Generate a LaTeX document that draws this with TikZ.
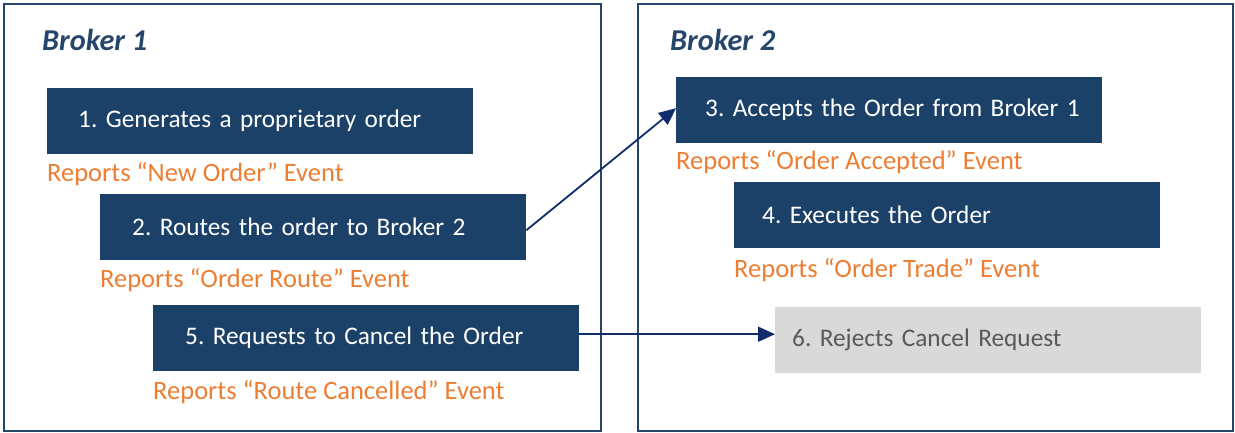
\documentclass[tikz,border=0pt]{standalone}
\usepackage{fontspec}
\setmainfont{Carlito}
\usetikzlibrary{arrows.meta}
\definecolor{navybox}{HTML}{1C4168}
\definecolor{framecol}{HTML}{25466A}
\definecolor{arrowcol}{HTML}{102C6A}
\definecolor{orangetxt}{HTML}{ED7D31}
\definecolor{graybox}{HTML}{D9D9D9}
\definecolor{graytxt}{HTML}{595959}
\tikzset{
  frame/.style={draw=framecol, line width=2pt, fill=none, inner sep=0pt, anchor=north west},
  title/.style={anchor=west, inner sep=0pt, text=framecol, font=\fontsize{30.3}{34}\selectfont\bfseries\itshape},
  stepbox/.style={fill=navybox, text=white, anchor=north west, minimum height=66pt, text width=422pt,
    inner xsep=2pt, inner ysep=0pt, align=left, font=\fontsize{25.3}{30}\selectfont\frenchspacing},
  graystep/.style={stepbox, fill=graybox, text=graytxt},
  report/.style={anchor=west, inner sep=0pt, text=orangetxt, font=\fontsize{26.5}{30}\selectfont},
  conn/.style={draw=arrowcol, line width=1.8pt, -{Triangle[length=17pt,width=15pt]}}
}
\begin{document}
\begin{tikzpicture}[x=1pt,y=-1pt]
\useasboundingbox (0,0) rectangle (1235,432);
% frames
\node[frame, minimum width=597pt, minimum height=427pt] (f1) at (3,3) {};
\node[frame, minimum width=595pt, minimum height=427pt] (f2) at (637,3) {};
\node[title] (t1) at (42,40) {Broker 1};
\node[title] (t2) at (670,40) {Broker 2};
% broker 1
\node[stepbox] (b1) at (47,88) {\hspace*{29pt}1. Generates a proprietary order};
\node[report] (r1) at ([yshift=-20pt]b1.south west) {Reports “New Order” Event};
\node[stepbox] (b2) at (100,194) {\hspace*{30pt}2. Routes the order to Broker 2};
\node[report] (r2) at ([yshift=-20pt]b2.south west) {Reports “Order Route” Event};
\node[stepbox] (b5) at (153,305) {\hspace*{30pt}5. Requests to Cancel the Order};
\node[report] (r5) at ([yshift=-21pt]b5.south west) {Reports “Route Cancelled” Event};
% broker 2
\node[stepbox] (b3) at (676,77) {\hspace*{27pt}3. Accepts the Order from Broker 1};
\node[report] (r3) at ([yshift=-19pt]b3.south west) {Reports “Order Accepted” Event};
\node[stepbox] (b4) at (734,182) {\hspace*{26pt}4. Executes the Order};
\node[report] (r4) at ([yshift=-22pt]b4.south west) {Reports “Order Trade” Event};
\node[graystep] (b6) at (775,307) {\hspace*{15pt}6. Rejects Cancel Request};
% connectors
\draw[conn] ([yshift=-3pt]b2.east) -- ([yshift=2pt]b3.west);
\draw[conn] ([yshift=4pt]b5.east) -- ([yshift=4pt]b5.east -| b6.west);
\end{tikzpicture}
\end{document}
